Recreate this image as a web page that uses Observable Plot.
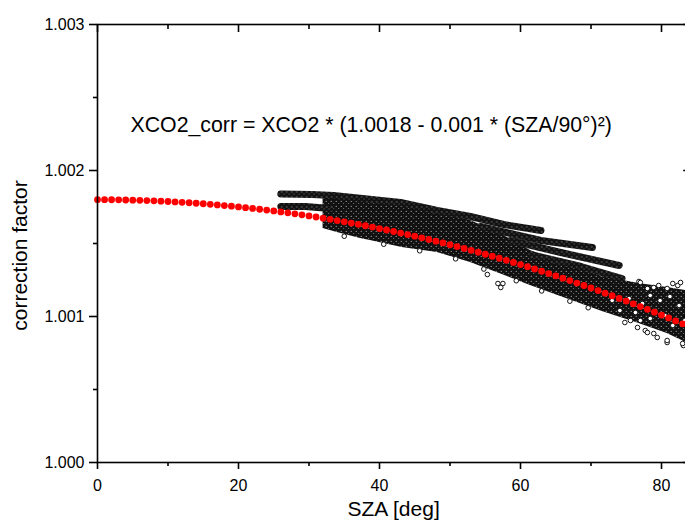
<!DOCTYPE html>
<html><head><meta charset="utf-8">
<script src="https://cdn.jsdelivr.net/npm/d3@7"></script>
<script src="https://cdn.jsdelivr.net/npm/@observablehq/plot@0.6"></script>
<style>html,body{margin:0;padding:0;background:#fff;overflow:hidden;} svg{max-width:none !important;}</style>
</head><body><div id="chart"></div>
<script>
// red fit points: SZA (deg) and correction factor
const fitSZA = [0,1,2,3,4,5,6,7,8,9,10,11,12,13,14,15,16,17,18,19,20,21,22,23,24,25,26,27,28,29,30,31,32,33,34,35,36,37,38,39,40,41,42,43,44,45,46,47,48,49,50,51,52,53,54,55,56,57,58,59,60,61,62,63,64,65,66,67,68,69,70,71,72,73,74,75,76,77,78,79,80,81,82,83];
const fitFactor = [1.0018000,1.0017999,1.0017995,1.0017989,1.0017980,1.0017969,1.0017956,1.0017940,1.0017921,1.0017900,
1.0017877,1.0017851,1.0017822,1.0017791,1.0017758,1.0017722,1.0017684,1.0017643,1.0017600,1.0017554,
1.0017506,1.0017456,1.0017402,1.0017347,1.0017289,1.0017228,1.0017165,1.0017100,1.0017032,1.0016962,
1.0016889,1.0016814,1.0016736,1.0016656,1.0016573,1.0016488,1.0016400,1.0016310,1.0016217,1.0016122,
1.0016025,1.0015925,1.0015822,1.0015717,1.0015610,1.0015500,1.0015388,1.0015273,1.0015156,1.0015036,
1.0014914,1.0014789,1.0014662,1.0014532,1.0014400,1.0014265,1.0014128,1.0013989,1.0013847,1.0013702,
1.0013556,1.0013406,1.0013254,1.0013100,1.0012943,1.0012784,1.0012622,1.0012458,1.0012291,1.0012122,
1.0011951,1.0011777,1.0011600,1.0011421,1.0011240,1.0011056,1.0010869,1.0010680,1.0010489,1.0010295,
1.0010099,1.0009900,1.0009699,1.0009495];

// dense cloud of measured points: envelope of the main band
const bandSZA   = [32.0,34.0,37.3,38.7,43.2,48.2,52.9,57.4,61.4,65.7,71.6,76.8,80.8,84];
const bandUpper = [1.0018151,1.0018116,1.0018014,1.0017945,1.0017603,1.0017123,1.0016575,1.0015616,1.0014521,1.0013699,1.0012740,1.0012260,1.0011986,1.0011740];
const bandLower = [1.0016027,1.0015753,1.0015342,1.0015205,1.0014726,1.0014384,1.0013699,1.0012877,1.0012123,1.0011370,1.0010342,1.0009521,1.0008836,1.0008100];

// individual tracks of points that stand out from the band
const trackId     = ["A","A","A","A","A","A","A","A", "B","B","B", "C","C","C", "D","D","D", "E","E","E"];
const trackSZA    = [26.0,30.5,33.5,43.0,48.2,52.9,57.6,62.9, 26.0,29.5,33.0, 54.3,62.9,70.2, 58.6,65.7,74.0, 61.4,68.6,74.4];
const trackFactor = [1.0018390,1.0018356,1.0018288,1.0017808,1.0017260,1.0016849,1.0016301,1.0015890,
                     1.0017534,1.0017534,1.0017397,
                     1.0016164,1.0015205,1.0014726,
                     1.0015205,1.0014384,1.0013493,
                     1.0014247,1.0013425,1.0012603];

// loose single points (edges of the cloud and the sparse right end)
const looseSZA = [56.8,57.5,57.2,55.3,76.8,78.0,80.8,83.1,77.0,78.9,79.6,80.8,81.6,82.3,82.7,78.4,77.7,78.9,80.8,83.0,76.6,75.6,78.0,79.4,
                  73.0,74.1,75.4,76.3,77.3,78.4,79.8,80.5,81.6,82.5,83.3,81.2,79.1,77.0,74.8,
                  35.0,40.6,45.7,50.8,54.8,59.4,63.0,67.0,69.6];
const looseFactor = [1.0012260,1.0012260,1.0011986,1.0012877,1.0012397,1.0011918,1.0008219,1.0008014,1.0012329,1.0011986,1.0012123,1.0011918,1.0012260,1.0012123,1.0012329,1.0011438,1.0009041,1.0008836,1.0008356,1.0008151,1.0009247,1.0009726,1.0008904,1.0008562,
                  1.0011096,1.0010411,1.0011233,1.0010274,1.0010890,1.0009863,1.0011096,1.0010068,1.0009384,1.0010753,1.0009726,1.0011370,1.0010411,1.0009726,1.0009589,
                  1.0015500,1.0014950,1.0014500,1.0013950,1.0013250,1.0012450,1.0011750,1.0011050,1.0010600];

const xMajor = [0,20,40,60,80];
const xMinor = [10,30,50,70];
const yMajor = [1.000,1.001,1.002,1.003];
const yMinor = [1.0005,1.0015,1.0025];

const annotation = "XCO2_corr = XCO2 * (1.0018 - 0.001 * (SZA/90°)²)";
const xTitle = "SZA [deg]";
const yTitle = "correction factor";

const fit = fitSZA.map((x,i)=>({x, y: fitFactor[i]}));
const band = bandSZA.map((x,i)=>({x, y1: bandLower[i], y2: bandUpper[i]}));
const tracks = trackSZA.map((x,i)=>({x, y: trackFactor[i], id: trackId[i]}));
const loose = looseSZA.map((x,i)=>({x, y: looseFactor[i]}));

const ink = "#111";
const sw = 1.6;
const svg = Plot.plot({
  width: 700, height: 528,
  marginLeft: 97, marginRight: 10.8, marginTop: 24, marginBottom: 66,
  style: {fontFamily: "'Liberation Sans', Arial, sans-serif", background: "#fff", color: "#000", maxWidth: "none"},
  x: {domain: [0, 84]},
  y: {domain: [1.000, 1.003]},
  marks: [
    Plot.areaY(band, {x: "x", y1: "y1", y2: "y2", fill: ink, curve: "linear"}),
    Plot.line(tracks, {x: "x", y: "y", z: "id", stroke: ink, strokeWidth: 7, strokeLinecap: "round", strokeLinejoin: "round"}),
    Plot.dot(loose, {x: "x", y: "y", r: 2.3, fill: "white", stroke: "#111", strokeWidth: 1}),
    Plot.dot(fit, {x: "x", y: "y", r: 3.4, fill: "#ff0000", stroke: null}),
    Plot.axisX({ticks: xMajor, anchor: "bottom", tickSize: 7, tickPadding: 10, strokeWidth: sw, fontSize: 16, label: null, tickFormat: d => String(d)}),
    Plot.axisX({ticks: xMinor, anchor: "bottom", tickSize: 4, strokeWidth: sw, tickFormat: () => "", label: null}),
    Plot.axisX({ticks: xMajor, anchor: "top", tickSize: 7, dy: 7, strokeWidth: sw, tickFormat: () => "", label: null}),
    Plot.axisX({ticks: xMinor, anchor: "top", tickSize: 4, dy: 4, strokeWidth: sw, tickFormat: () => "", label: null}),
    Plot.axisY({ticks: yMajor, anchor: "left", tickSize: 8, tickPadding: 5, strokeWidth: sw, fontSize: 16, label: null, tickFormat: d3.format(".3f")}),
    Plot.axisY({ticks: yMinor, anchor: "left", tickSize: 4, strokeWidth: sw, tickFormat: () => "", label: null}),
    Plot.axisY({ticks: yMajor, anchor: "right", tickSize: 7, dx: -7, strokeWidth: sw, tickFormat: () => "", label: null}),
    Plot.axisY({ticks: yMinor, anchor: "right", tickSize: 4, dx: -4, strokeWidth: sw, tickFormat: () => "", label: null}),
    Plot.frame({stroke: "#000", strokeWidth: sw}),
    Plot.text([annotation], {text: d => d, frameAnchor: "top-left", dx: 33, dy: 92, textAnchor: "start", fontSize: 21.3, fill: "#000"}),
    Plot.text([xTitle], {text: d => d, frameAnchor: "bottom", dy: 53, textAnchor: "middle", fontSize: 21, fill: "#000"}),
    Plot.text([yTitle], {text: d => d, frameAnchor: "left", dx: -77, dy: 12, rotate: -90, textAnchor: "middle", fontSize: 21, fill: "#000"})
  ]
});
svg.style.maxWidth = "none";
svg.style.height = "528px";
svg.style.width = "700px";
// speckle texture for the dense cloud of open circles
d3.select(svg).insert("defs", ":first-child").html(
  '<pattern id="speckle" width="5" height="5" patternUnits="userSpaceOnUse">' +
  '<rect width="5" height="5" fill="#111"/>' +
  '<circle cx="1.2" cy="1.3" r="0.6" fill="#bdbdbd"/><circle cx="3.7" cy="3.6" r="0.5" fill="#9a9a9a"/></pattern>');
d3.select(svg).selectAll("g[aria-label='area'] path").attr("fill", "url(#speckle)");
d3.select(svg).selectAll("g[aria-label='line'] path").attr("stroke", "url(#speckle)");
document.getElementById("chart").appendChild(svg);
</script></body></html>
